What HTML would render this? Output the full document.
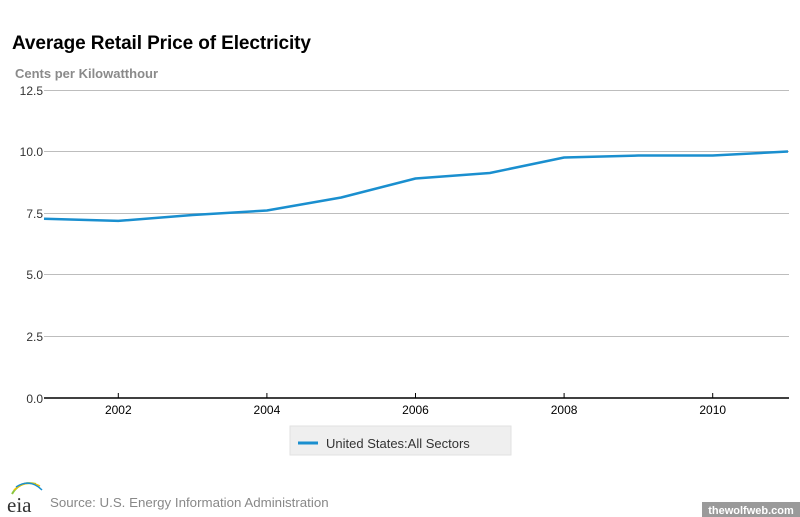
<!DOCTYPE html>
<html><head><meta charset="utf-8"><style>
html,body{margin:0;padding:0;background:#fff;width:800px;height:517px;overflow:hidden;font-family:"Liberation Sans",sans-serif;}
</style></head><body>
<svg width="800" height="517" xmlns="http://www.w3.org/2000/svg" font-family="Liberation Sans, sans-serif">
<rect width="800" height="517" fill="#fff"/>
<text x="12" y="49" font-size="19" font-weight="bold" fill="#000" letter-spacing="-0.1">Average Retail Price of Electricity</text>
<text x="15" y="78" font-size="13" font-weight="bold" fill="#8a8a8a">Cents per Kilowatthour</text>
<g stroke="#bdbdbd" stroke-width="1">
<line x1="44" y1="90.5" x2="789" y2="90.5"/>
<line x1="44" y1="151.5" x2="789" y2="151.5"/>
<line x1="44" y1="213.5" x2="789" y2="213.5"/>
<line x1="44" y1="274.5" x2="789" y2="274.5"/>
<line x1="44" y1="336.5" x2="789" y2="336.5"/>
</g>
<line x1="44" y1="398" x2="789" y2="398" stroke="#000" stroke-width="1.5"/>
<g stroke="#000" stroke-width="1">
<line x1="118.3" y1="393" x2="118.3" y2="398"/>
<line x1="266.9" y1="393" x2="266.9" y2="398"/>
<line x1="415.5" y1="393" x2="415.5" y2="398"/>
<line x1="564.1" y1="393" x2="564.1" y2="398"/>
<line x1="712.7" y1="393" x2="712.7" y2="398"/>
</g>
<g font-size="12" fill="#333" text-anchor="end">
<text x="43" y="95">12.5</text>
<text x="43" y="156">10.0</text>
<text x="43" y="218">7.5</text>
<text x="43" y="279">5.0</text>
<text x="43" y="341">2.5</text>
<text x="43" y="403">0.0</text>
</g>
<g font-size="12" fill="#000" text-anchor="middle">
<text x="118.3" y="414">2002</text>
<text x="266.9" y="414">2004</text>
<text x="415.5" y="414">2006</text>
<text x="564.1" y="414">2008</text>
<text x="712.7" y="414">2010</text>
</g>
<polyline fill="none" stroke="#1a8fcf" stroke-width="2.5" stroke-linejoin="round"
points="44,218.7 118.3,220.9 192.6,215 266.9,210.5 341.2,197.5 415.5,178.5 489.8,173 564.1,157.5 638.4,155.5 712.7,155.5 788,151.5"/>
<rect x="290" y="426" width="221" height="29" fill="#efefef" stroke="#e2e2e2"/>
<line x1="298" y1="443" x2="318" y2="443" stroke="#1a8fcf" stroke-width="3"/>
<text x="326" y="448" font-size="13" fill="#333">United States:All Sectors</text>
<path d="M12,494 Q20,480 36,484" fill="none" stroke="#8cc63f" stroke-width="2"/>
<path d="M14,490 Q26,479 40,486" fill="none" stroke="#f2c200" stroke-width="1.5"/>
<path d="M16,487 Q30,478 42,490" fill="none" stroke="#1a8fcf" stroke-width="1.5"/>
<text x="7" y="512" font-size="21" font-family="Liberation Serif, serif" fill="#333">eia</text>
<text x="50" y="507" font-size="13.3" fill="#888">Source: U.S. Energy Information Administration</text>
<rect x="702" y="502" width="98" height="15" fill="#9a9a9a"/>
<text x="751" y="514" font-size="11" font-weight="bold" fill="#fff" text-anchor="middle">thewolfweb.com</text>
</svg>
</body></html>
